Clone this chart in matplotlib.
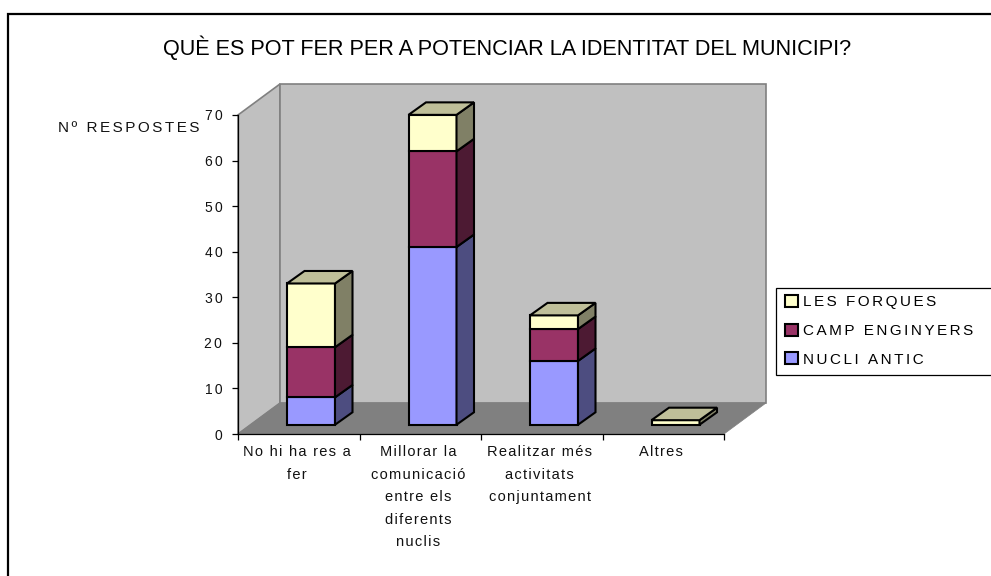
import matplotlib
matplotlib.use('Agg')
import matplotlib.pyplot as plt
from matplotlib.patches import Patch, Polygon, Rectangle

plt.rcParams['font.family'] = ['Liberation Sans', 'DejaVu Sans']

title = "QUÈ ES POT FER PER A POTENCIAR LA IDENTITAT DEL MUNICIPI?"
y_title = "Nº RESPOSTES"
categories = ["No hi ha res a\nfer",
              "Millorar la\ncomunicació\nentre els\ndiferents\nnuclis",
              "Realitzar més\nactivitats\nconjuntament",
              "Altres"]
series_names = ["NUCLI ANTIC", "CAMP ENGINYERS", "LES FORQUES"]
nucli_antic = [6, 39, 14, 0]
camp_enginyers = [11, 21, 7, 0]
les_forques = [14, 8, 3, 1]
y_ticks = [0, 10, 20, 30, 40, 50, 60, 70]

front_colors = ['#9999ff', '#993366', '#ffffcc']
side_colors = ['#4d4d80', '#4d1a33', '#808066']
top_color = '#bfbf99'

W, H = 991, 576

def spaced(s, n=1):
    # wide tracking of the original, hair spaces between letters
    return "\n".join(("\u200a" * n).join(line) for line in s.split("\n"))

fig = plt.figure(figsize=(W / 100, H / 100), dpi=100)

# outer chart frame, runs off the right and bottom of the picture
fig.add_artist(Rectangle((8 / W, -0.01), 990 / W, (562 + 6) / H, transform=fig.transFigure,
                         fill=False, ec='black', lw=1.6))

# front plane of the 3d box: 238..724 px wide, 115..434 px high
ax = fig.add_axes([238 / W, 1 - 434 / H, 486 / W, 319 / H])
ax.set_xlim(0, 4)
ax.set_ylim(0, 70)
ax.patch.set_visible(False)
for s in ['top', 'right']:
    ax.spines[s].set_visible(False)
ax.spines['left'].set_linewidth(0.9)
ax.spines['bottom'].set_linewidth(0.9)

# depth of the box and of the bars, in data units
box_dx = 42 / 121.5
box_dy = 31 / (319 / 70)
bar_dx = 17.5 / 121.5
bar_dy = 12.5 / (319 / 70)
bar_w = 48 / 121.5

def poly(pts, fc, ec, lw, z):
    ax.add_patch(Polygon(pts, closed=True, fc=fc, ec=ec, lw=lw, zorder=z,
                         clip_on=False, joinstyle='miter'))

# walls and floor
poly([(0, 0), (box_dx, box_dy), (box_dx, 70 + box_dy), (0, 70)], '#c0c0c0', '#808080', 1.2, 1)
poly([(box_dx, box_dy), (4 + box_dx, box_dy), (4 + box_dx, 70 + box_dy), (box_dx, 70 + box_dy)],
     '#c0c0c0', '#808080', 1.2, 1)
poly([(0, 0), (4, 0), (4 + box_dx, box_dy), (box_dx, box_dy)], '#808080', '#808080', 0.5, 1.5)

# bars
gap_x = (box_dx - bar_dx) / 2
gap_y = (box_dy - bar_dy) / 2
for i in range(len(categories)):
    x0 = i + 0.5 - bar_w / 2 + gap_x
    x1 = x0 + bar_w
    bottom = gap_y
    vals = [nucli_antic[i], camp_enginyers[i], les_forques[i]]
    for j, v in enumerate(vals):
        if v == 0:
            continue
        top = bottom + v
        z = 3 + j * 0.1
        poly([(x0, bottom), (x1, bottom), (x1, top), (x0, top)], front_colors[j], 'black', 1.5, z)
        poly([(x1, bottom), (x1 + bar_dx, bottom + bar_dy), (x1 + bar_dx, top + bar_dy), (x1, top)],
             side_colors[j], 'black', 1.5, z)
        bottom = top
    poly([(x0, bottom), (x1, bottom), (x1 + bar_dx, bottom + bar_dy), (x0 + bar_dx, bottom + bar_dy)],
         top_color, 'black', 1.5, 4)

# ticks
ax.set_yticks(y_ticks)
ax.set_yticklabels([spaced(str(t), 2) for t in y_ticks], fontsize=10, color='#111111')
ax.set_xticks(range(5))
ax.set_xticklabels([])
ax.tick_params(axis='both', length=4.3, width=0.9)
ax.tick_params(axis='y', pad=7)
for i, c in enumerate(categories):
    ax.annotate(spaced(c), (i + 0.5, 0), xytext=(-2, -11), textcoords='offset pixels',
                ha='center', va='top', fontsize=10.5, linespacing=1.78, color='#111111')

fig.text(507 / W, 1 - 48 / H, title, ha='center', va='center', fontsize=15.6, color='black')
fig.text(129 / W, 1 - 128 / H, spaced(y_title, 2), ha='center', va='center', fontsize=11, color='#111111')

# legend box, its right side is off the picture
fig.add_artist(Rectangle((776 / W, 1 - 375 / H), 230 / W, 87 / H, transform=fig.transFigure,
                         fc='white', ec='black', lw=0.9))
handles = [Patch(fc=front_colors[j], ec='black', lw=1.5) for j in [2, 1, 0]]
labels = [spaced(series_names[j], 2) for j in [2, 1, 0]]
leg = fig.legend(handles, labels, loc='upper left', bbox_to_anchor=(785 / W, 1 - 295 / H),
                 fontsize=11, frameon=False, borderpad=0, borderaxespad=0,
                 handlelength=0.87, handleheight=0.87, handletextpad=0.33, labelspacing=0.92)

fig.savefig('out.png', dpi=100)
